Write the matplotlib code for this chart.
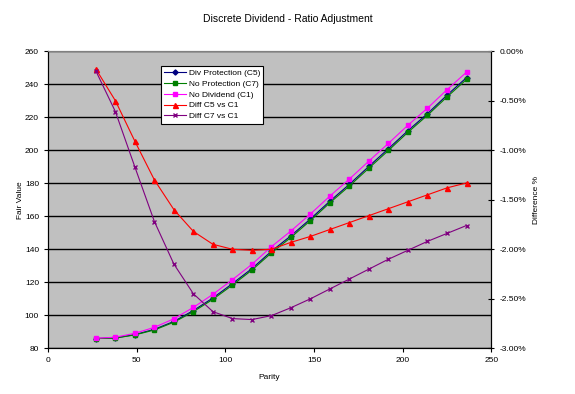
import matplotlib

matplotlib.use("Agg")
import matplotlib.pyplot as plt  # noqa: E402
from matplotlib.ticker import FuncFormatter, MultipleLocator  # noqa: E402

plt.rcParams["font.family"] = ["Liberation Sans", "DejaVu Sans"]

# data
parity = [27, 38, 49, 60, 71, 82, 93, 104, 115, 126,
          137, 148, 159, 170, 181, 192, 203, 214, 225, 236]
div_protection_c5 = [85.9, 86.3, 88.3, 91.5, 96.3, 102.9, 110.5, 119.2, 128.3, 138.8,
                     148.2, 158.4, 169.2, 179.4, 190.3, 201.0, 211.9, 222.2, 233.4, 244.0]
no_protection_c7 = [85.9, 86.2, 88.1, 91.1, 95.8, 102.2, 109.7, 118.3, 127.4, 137.8,
                    147.2, 157.4, 168.2, 178.4, 189.2, 199.9, 210.9, 221.2, 232.3, 242.9]
no_dividend_c1 = [86.1, 86.7, 89.1, 92.7, 97.9, 104.8, 112.7, 121.6, 130.9, 141.6,
                  151.1, 161.4, 172.3, 182.6, 193.5, 204.2, 215.2, 225.5, 236.7, 247.3]
diff_c5_c1 = [-0.18, -0.50, -0.91, -1.30, -1.60, -1.82, -1.95, -2.00, -2.01, -2.00,
              -1.93, -1.87, -1.80, -1.73, -1.66, -1.59, -1.52, -1.45, -1.38, -1.33]
diff_c7_c1 = [-0.20, -0.61, -1.17, -1.72, -2.15, -2.45, -2.63, -2.70, -2.71, -2.67,
              -2.59, -2.50, -2.40, -2.30, -2.20, -2.10, -2.01, -1.92, -1.84, -1.76]

fs = 6

fig = plt.figure(figsize=(5.75, 3.94), dpi=100)
ax = fig.add_axes([0.0835, 0.116, 0.771, 0.754])
ax.set_facecolor("#C0C0C0")
ax2 = ax.twinx()

l1, = ax.plot(parity, div_protection_c5, color="#000080", lw=0.8, marker="D", ms=2.6,
              label="Div Protection (C5)")
l2, = ax.plot(parity, no_protection_c7, color="#008000", lw=0.8, marker="s", ms=3.2,
              label="No Protection (C7)")
l3, = ax.plot(parity, no_dividend_c1, color="#FF00FF", lw=0.8, marker="s", ms=2.3,
              label="No Dividend (C1)")
l4, = ax2.plot(parity, diff_c5_c1, color="#FF0000", lw=0.8, marker="^", ms=3.6,
               label="Diff C5 vs C1")
l5, = ax2.plot(parity, diff_c7_c1, color="#800080", lw=0.8, marker="x", ms=2.8,
               label="Diff C7 vs C1")

ax.set_xlim(0, 250)
ax.set_ylim(80, 260)
ax.yaxis.set_major_locator(MultipleLocator(20))
ax.xaxis.set_major_locator(MultipleLocator(50))
ax.grid(axis="y", color="black", lw=1)
ax.set_axisbelow(True)

ax2.set_ylim(-3.0, 0.0)
ax2.yaxis.set_major_locator(MultipleLocator(0.5))
ax2.yaxis.set_major_formatter(FuncFormatter(lambda v, p: f"{v:.2f}%"))

for a in (ax, ax2):
    a.tick_params(labelsize=fs, length=3, width=0.8)
    a.spines["top"].set_color("#808080")
    for s in ("left", "right", "bottom"):
        a.spines[s].set_color("black")
ax2.tick_params(axis="y", direction="inout", length=5)

ax.set_xlabel("Parity", fontsize=fs)
ax.set_ylabel("Fair Value", fontsize=fs)
ax2.set_ylabel("Difference %", fontsize=fs, rotation=90)
ax.xaxis.set_label_coords(0.5, -0.085)
ax.yaxis.set_label_coords(-0.054, 0.5)
ax2.yaxis.set_label_coords(1.093, 0.5)

fig.suptitle("Discrete Dividend - Ratio Adjustment", fontsize=7.5,
             y=1 - 19 / 394, va="center")

leg = fig.legend(handles=[l1, l2, l3, l4, l5], loc="upper left",
                 bbox_to_anchor=(161 / 575, 1 - 66 / 394), fontsize=fs,
                 fancybox=False, framealpha=1, edgecolor="black",
                 borderpad=0.4, labelspacing=0.35, handlelength=2.6,
                 handletextpad=0.3, borderaxespad=0)
leg.get_frame().set_linewidth(0.8)

fig.savefig("out.png", dpi=100)
